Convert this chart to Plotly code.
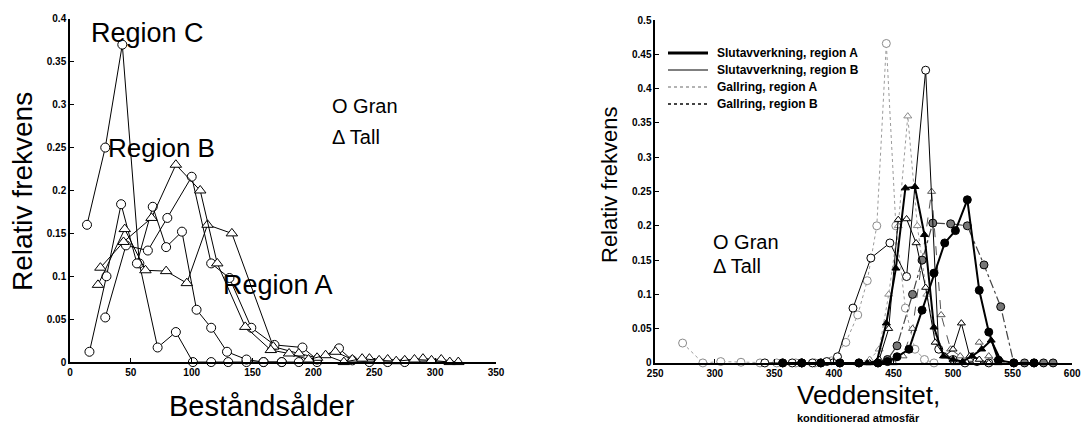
import plotly.graph_objects as go

# ---------------- Left panel: stand age distributions ----------------
gran_C_x = [14, 29, 43, 57, 72, 87, 101, 116, 130, 145, 159, 174]
gran_C_y = [0.160, 0.250, 0.370, 0.115, 0.017, 0.035, 0.0, 0.0, 0.0, 0.0, 0.0, 0.0]

gran_A_x = [16, 30, 42, 55, 68, 79, 92, 104, 116, 129, 145, 159, 174, 188, 203]
gran_A_y = [0.012, 0.100, 0.184, 0.115, 0.181, 0.134, 0.152, 0.061, 0.040, 0.012, 0.003, 0.0, 0.0, 0.0, 0.0]

gran_B_x = [29, 46, 64, 80, 100, 116, 131, 149, 168, 191, 203, 221, 232, 246, 261, 275]
gran_B_y = [0.052, 0.136, 0.130, 0.168, 0.216, 0.115, 0.098, 0.040, 0.020, 0.017, 0.003, 0.016, 0.002, 0.0, 0.0, 0.0]

tall_A_x = [23, 45, 62, 79, 96, 113, 133, 167, 188, 203, 218, 232, 246, 261, 275, 290, 305, 319]
tall_A_y = [0.090, 0.155, 0.107, 0.106, 0.092, 0.160, 0.150, 0.018, 0.010, 0.005, 0.012, 0.003, 0.004, 0.003, 0.002, 0.004, 0.003, 0.0]

tall_B_x = [25, 44, 67, 87, 107, 121, 144, 165, 180, 196, 210, 225, 240, 254, 268, 283, 297, 312]
tall_B_y = [0.110, 0.140, 0.168, 0.230, 0.200, 0.115, 0.041, 0.014, 0.010, 0.003, 0.008, 0.0, 0.004, 0.002, 0.001, 0.003, 0.002, 0.0]

left_xticks = [0, 50, 100, 150, 200, 250, 300, 350]
left_yticks = [0, 0.05, 0.1, 0.15, 0.2, 0.25, 0.3, 0.35, 0.4]
left_ytext = ["0", "0.05", "0.1", "0.15", "0.2", "0.25", "0.3", "0.35", "0.4"]

# ---------------- Right panel: wood density distributions ----------------
slut_A_gran_x = [357, 373, 389, 405, 421, 437, 445, 453, 463, 474, 484, 493, 502, 512, 522, 530, 538, 551, 568]
slut_A_gran_y = [0.0, 0.0, 0.0, 0.0, 0.0, 0.0, 0.002, 0.009, 0.020, 0.077, 0.131, 0.175, 0.193, 0.238, 0.106, 0.045, 0.004, 0.0, 0.0]

slut_A_tall_x = [420, 428, 436, 444, 452, 460, 468, 476, 484, 492, 500, 508, 516, 524, 532, 540]
slut_A_tall_y = [0.0, 0.0, 0.002, 0.058, 0.138, 0.255, 0.257, 0.187, 0.052, 0.010, 0.005, 0.002, 0.010, 0.020, 0.033, 0.004]

slut_B_gran_x = [342, 357, 365, 373, 382, 394, 403, 416, 431, 447, 461, 477, 488, 500, 510, 520, 530]
slut_B_gran_y = [0.0, 0.0, 0.0, 0.0, 0.0, 0.002, 0.009, 0.080, 0.153, 0.175, 0.126, 0.427, 0.020, 0.005, 0.0, 0.002, 0.0]

slut_B_tall_x = [430, 438, 446, 454, 461, 469, 477, 485, 493, 500, 507, 514, 522, 530]
slut_B_tall_y = [0.0, 0.005, 0.050, 0.209, 0.210, 0.175, 0.110, 0.030, 0.010, 0.020, 0.058, 0.010, 0.005, 0.0]

gall_A_gran_x = [273, 290, 305, 322, 338, 352, 368, 384, 398, 410, 420, 428, 436, 444, 452, 460, 468, 476, 484]
gall_A_gran_y = [0.029, 0.0, 0.002, 0.001, 0.0, 0.0, 0.0, 0.0, 0.003, 0.030, 0.070, 0.120, 0.200, 0.466, 0.200, 0.080, 0.020, 0.005, 0.0]

gall_A_tall_x = [420, 430, 438, 446, 454, 462, 470, 478, 486, 494, 502]
gall_A_tall_y = [0.0, 0.005, 0.020, 0.100, 0.200, 0.360, 0.200, 0.100, 0.030, 0.010, 0.0]

gall_B_gran_x = [373, 389, 405, 421, 437, 445, 453, 466, 474, 483, 498, 512, 526, 540, 551, 560, 568, 576, 584]
gall_B_gran_y = [0.0, 0.0, 0.0, 0.0, 0.0, 0.005, 0.025, 0.100, 0.150, 0.204, 0.203, 0.200, 0.143, 0.082, 0.0, 0.0, 0.0, 0.0, 0.0]

gall_B_tall_x = [450, 458, 466, 474, 482, 490, 498, 506, 514, 522, 530, 538]
gall_B_tall_y = [0.0, 0.010, 0.050, 0.150, 0.250, 0.070, 0.020, 0.010, 0.005, 0.030, 0.010, 0.0]

right_xticks = [250, 300, 350, 400, 450, 500, 550, 600]
right_yticks = [0, 0.05, 0.1, 0.15, 0.2, 0.25, 0.3, 0.35, 0.4, 0.45, 0.5]
right_ytext = ["0", "0.05", "0.1", "0.15", "0.2", "0.25", "0.3", "0.35", "0.4", "0.45", "0.5"]

legend_labels = ["Slutavverkning, region A", "Slutavverkning, region B",
                 "Gallring, region A", "Gallring, region B"]

FONT = "Liberation Sans"
fig = go.Figure()


def add(xs, ys, symbol, axis, line, mcolor="white", mline="black", size=8):
    fig.add_trace(go.Scatter(
        x=xs, y=ys, mode="lines+markers", xaxis=axis[0], yaxis=axis[1],
        line=line, showlegend=False, cliponaxis=False,
        marker=dict(symbol=symbol, size=size, color=mcolor,
                    line=dict(color=mline, width=1)),
    ))


thin = dict(color="black", width=1)
L = ("x", "y")
add(gran_C_x, gran_C_y, "circle", L, thin, size=9)
add(gran_A_x, gran_A_y, "circle", L, thin, size=9)
add(gran_B_x, gran_B_y, "circle", L, thin, size=9)
add(tall_A_x, tall_A_y, "triangle-up", L, thin, size=10)
add(tall_B_x, tall_B_y, "triangle-up", L, thin, size=10)

R = ("x2", "y2")
add(gall_A_gran_x, gall_A_gran_y, "circle", R, dict(color="#9a9a9a", width=1, dash="dot"), mline="#8a8a8a")
add(gall_A_tall_x, gall_A_tall_y, "triangle-up", R, dict(color="#9a9a9a", width=1, dash="dot"), mline="#8a8a8a", size=7)
add(gall_B_tall_x, gall_B_tall_y, "triangle-up", R, dict(color="#555555", width=1, dash="dash"), mline="#555555", size=7)
add(gall_B_gran_x, gall_B_gran_y, "circle", R, dict(color="#444444", width=1.2, dash="dashdot"), mcolor="#777777", mline="black", size=8)
add(slut_B_gran_x, slut_B_gran_y, "circle", R, dict(color="black", width=1), size=8)
add(slut_B_tall_x, slut_B_tall_y, "triangle-up", R, dict(color="black", width=1), size=7)
add(slut_A_tall_x, slut_A_tall_y, "triangle-up", R, dict(color="black", width=2), mcolor="black", size=7)
add(slut_A_gran_x, slut_A_gran_y, "circle", R, dict(color="black", width=2), mcolor="black", size=8)

tickfont = dict(family=FONT, size=10, color="black", weight="bold")
axis_common = dict(showgrid=False, zeroline=False, showline=True, linecolor="black",
                   linewidth=1.5, ticks="inside", ticklen=4, tickcolor="black",
                   tickfont=tickfont, automargin=False)

fig.update_layout(
    width=1083, height=429, margin=dict(l=0, r=0, t=0, b=0),
    paper_bgcolor="white", plot_bgcolor="white",
    xaxis=dict(domain=[0.0646, 0.458], range=[0, 350], tickvals=left_xticks,
               anchor="y", **axis_common),
    yaxis=dict(domain=[0.156, 0.956], range=[0, 0.4], tickvals=left_yticks,
               ticktext=left_ytext, anchor="x", **axis_common),
    xaxis2=dict(domain=[0.605, 0.990], range=[250, 600], tickvals=right_xticks,
                anchor="y2", **axis_common),
    yaxis2=dict(domain=[0.154, 0.953], range=[0, 0.5], tickvals=right_yticks,
                ticktext=right_ytext, anchor="x2", **axis_common),
)

ann = []


def text(x, y, s, size, xanchor="center", angle=0, weight="normal", xref="paper", yref="paper"):
    ann.append(dict(x=x, y=y, xref=xref, yref=yref, text=s, showarrow=False,
                    xanchor=xanchor, yanchor="middle", textangle=angle,
                    font=dict(family=FONT, size=size, color="black", weight=weight)))


# left panel texts
text(23 / 1083, 1 - 192 / 429, "Relativ frekvens", 28, angle=-90)
text(262 / 1083, 1 - 406 / 429, "Beståndsålder", 29)
text(89 / 1083, 1 - 33 / 429, "Region C", 27, xanchor="left")
text(106 / 1083, 1 - 148 / 429, "Region B", 26, xanchor="left")
text(221 / 1083, 1 - 285 / 429, "Region A", 27, xanchor="left")
text(330 / 1083, 1 - 106 / 429, "O Gran", 20, xanchor="left")
text(330 / 1083, 1 - 137 / 429, "Δ Tall", 20, xanchor="left")

# right panel texts
text(610 / 1083, 1 - 185 / 429, "Relativ frekvens", 22, angle=-90)
text(868 / 1083, 1 - 395 / 429, "Veddensitet,", 26)
text(858 / 1083, 1 - 418 / 429, "konditionerad atmosfär", 11, weight="bold")
text(711 / 1083, 1 - 242 / 429, "O Gran", 20, xanchor="left")
text(711 / 1083, 1 - 266 / 429, "Δ Tall", 20, xanchor="left")

# key for the right panel line styles
key_styles = [dict(color="black", width=3), dict(color="black", width=1),
              dict(color="#9a9a9a", width=1.5, dash="dot"), dict(color="#444444", width=2, dash="dot")]
key_rows = [53, 70, 87, 104]
shapes = []
for lab, st, row in zip(legend_labels, key_styles, key_rows):
    yp = 1 - row / 429
    shapes.append(dict(type="line", xref="paper", yref="paper", x0=668 / 1083, x1=708 / 1083,
                       y0=yp, y1=yp, line=st))
    text(715 / 1083, yp, lab, 12, xanchor="left", weight="bold")

fig.update_layout(annotations=ann, shapes=shapes)
fig.write_html("out.html")
